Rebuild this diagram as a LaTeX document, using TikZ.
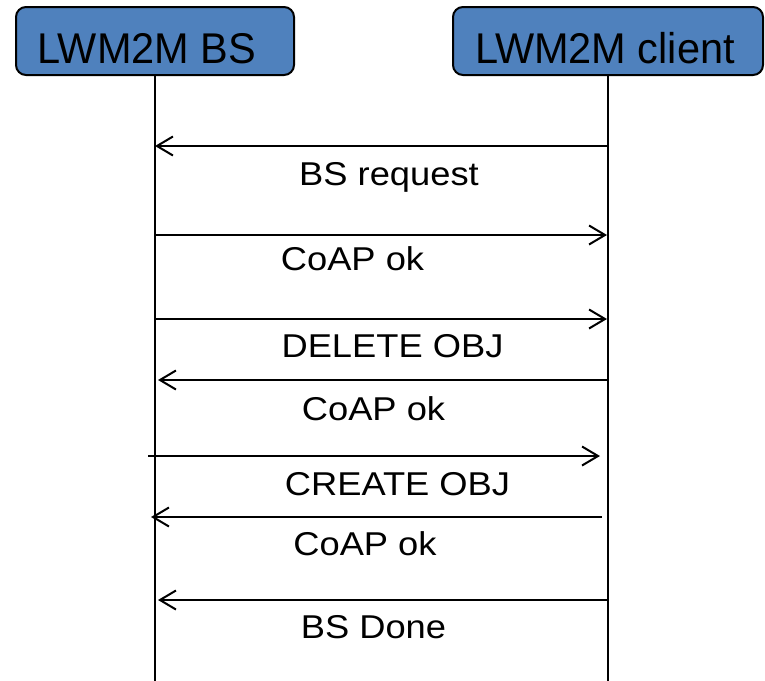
\documentclass[tikz,border=0pt]{standalone}
\usepackage{fontspec}
\setmainfont{Liberation Sans}
\usetikzlibrary{arrows.meta}
\definecolor{boxblue}{HTML}{4F81BD}
\begin{document}
\begin{tikzpicture}[x=1pt,y=-1pt,
  actor/.style={draw=black,line width=2pt,fill=boxblue,rounded corners=10pt,minimum height=68pt,inner sep=0pt},
  headtext/.style={font=\fontsize{43}{48}\selectfont,anchor=base,inner sep=0pt,xscale=0.965},
  msgtext/.style={font=\fontsize{33}{40}\selectfont,anchor=base,inner sep=0pt,xscale=1.1},
  lifeline/.style={line width=2pt},
  msg/.style={line width=2pt,-{Straight Barb[length=16pt,width=19pt,line width=2pt]}}]
\useasboundingbox (0,0) rectangle (765,680);
% actors
\node[actor,minimum width=278pt] (bs) at (155,41) {};
\node[actor,minimum width=310pt] (cl) at (608,41) {};
\node[headtext] (bsT) at (147,63) {LWM2M BS};
\node[headtext] (clT) at (605,63) {LWM2M client};
% lifelines
\coordinate (bsEnd) at (155,681);
\coordinate (clEnd) at (608,681);
\draw[lifeline] (bs.south) -- (bsEnd);
\draw[lifeline] (cl.south) -- (clEnd);
% message end points
\coordinate (r1) at (608,146); \coordinate (l1) at (155,146);
\coordinate (l2) at (155,235); \coordinate (r2) at (607,235);
\coordinate (l3) at (155,319); \coordinate (r3) at (607,319);
\coordinate (r4) at (608,380); \coordinate (l4) at (158,380);
\coordinate (l5) at (148,456); \coordinate (r5) at (600,456);
\coordinate (r6) at (602,517); \coordinate (l6) at (151,517);
\coordinate (r7) at (608,600); \coordinate (l7) at (158,600);
% messages
\draw[msg] (r1) -- (l1);
\draw[msg] (l2) -- (r2);
\draw[msg] (l3) -- (r3);
\draw[msg] (r4) -- (l4);
\draw[msg] (l5) -- (r5);
\draw[msg] (r6) -- (l6);
\draw[msg] (r7) -- (l7);
% labels
\node[msgtext] (t1) at (389,185) {BS request};
\node[msgtext] (t2) at (352.5,270) {CoAP ok};
\node[msgtext] (t3) at (392.5,357) {DELETE OBJ};
\node[msgtext] (t4) at (373.5,420) {CoAP ok};
\node[msgtext] (t5) at (397.5,495) {CREATE OBJ};
\node[msgtext] (t6) at (365,555) {CoAP ok};
\node[msgtext] (t7) at (373.5,638) {BS Done};
\end{tikzpicture}
\end{document}
